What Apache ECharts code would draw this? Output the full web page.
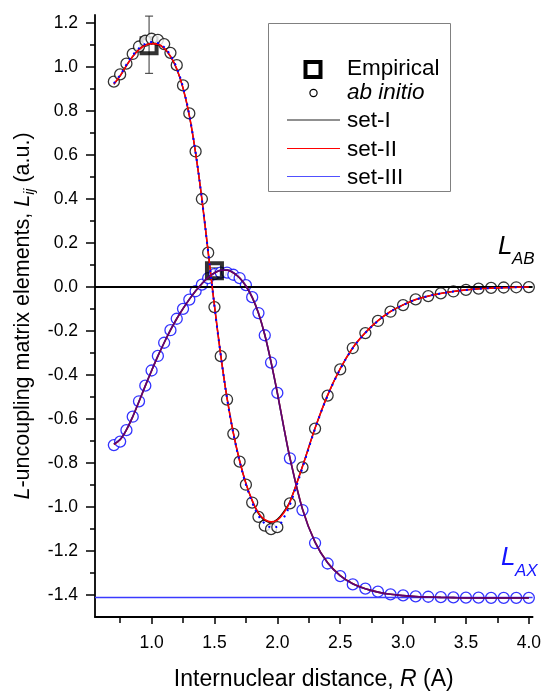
<!DOCTYPE html>
<html><head><meta charset="utf-8">
<script src="https://cdn.jsdelivr.net/npm/echarts@6/dist/echarts.min.js"></script>
<style>html,body{margin:0;padding:0;background:#fff}#c{width:544px;height:696px}</style>
</head><body><div id="c"></div>
<script>
// ---------- data ----------
const R_POINTS = [0.70,0.75,0.80,0.85,0.90,0.95,1.00,1.05,1.10,1.15,1.20,1.25,1.30,1.35,1.40,1.45,1.50,1.55,1.60,1.65,1.70,1.75,1.80,1.85,1.90,1.95,2.00,
  2.1,2.2,2.3,2.4,2.5,2.6,2.7,2.8,2.9,3.0,3.1,3.2,3.3,3.4,3.5,3.6,3.7,3.8,3.9,4.0];
const ABINITIO_LAB = [0.932,0.965,1.014,1.058,1.092,1.118,1.127,1.122,1.103,1.063,1.007,0.915,0.788,0.615,0.399,0.155,-0.092,-0.315,-0.512,-0.668,-0.794,-0.899,-0.980,-1.045,-1.085,-1.101,-1.092,
  -0.984,-0.820,-0.644,-0.494,-0.375,-0.278,-0.210,-0.155,-0.113,-0.083,-0.057,-0.042,-0.030,-0.021,-0.014,-0.008,-0.005,-0.003,-0.002,-0.001];
const ABINITIO_LAX = [-0.719,-0.703,-0.651,-0.590,-0.520,-0.449,-0.380,-0.314,-0.254,-0.197,-0.145,-0.100,-0.058,-0.020,0.010,0.040,0.058,0.065,0.065,0.055,0.040,0.008,-0.047,-0.119,-0.220,-0.344,-0.482,
  -0.779,-1.014,-1.164,-1.257,-1.314,-1.352,-1.371,-1.385,-1.397,-1.402,-1.406,-1.408,-1.410,-1.411,-1.412,-1.412,-1.413,-1.413,-1.413,-1.413];

const R_CURVE = [0.70,0.75,0.80,0.85,0.90,0.95,1.00,1.05,1.10,1.15,1.20,1.25,1.30,1.35,1.40,1.45,1.50,1.55,1.60,1.65,1.70,1.75,1.80,1.85,1.90,1.95,2.00,2.05,
  2.1,2.2,2.3,2.4,2.5,2.6,2.7,2.8,2.9,3.0,3.1,3.2,3.3,3.4,3.5,3.6,3.7,3.8,3.9,4.0];
const SET1_LAB = [0.920,0.958,1.005,1.047,1.079,1.099,1.107,1.103,1.084,1.047,0.990,0.903,0.778,0.608,0.398,0.158,-0.086,-0.310,-0.505,-0.663,-0.790,-0.893,-0.972,-1.030,-1.062,-1.070,-1.056,-1.022,
  -0.975,-0.815,-0.642,-0.492,-0.372,-0.277,-0.208,-0.154,-0.112,-0.082,-0.058,-0.042,-0.030,-0.021,-0.014,-0.009,-0.006,-0.004,-0.002,-0.001];
const SET2_LAB = [0.921,0.959,1.005,1.046,1.078,1.098,1.105,1.102,1.084,1.048,0.991,0.904,0.779,0.609,0.399,0.158,-0.086,-0.310,-0.506,-0.664,-0.790,-0.892,-0.970,-1.027,-1.058,-1.068,-1.060,-1.028,
  -0.978,-0.816,-0.642,-0.492,-0.372,-0.277,-0.208,-0.154,-0.112,-0.082,-0.058,-0.042,-0.030,-0.021,-0.014,-0.009,-0.006,-0.004,-0.002,-0.001];
const SET3_LAB = [0.925,0.962,1.010,1.052,1.084,1.104,1.112,1.108,1.089,1.052,0.995,0.907,0.781,0.610,0.399,0.157,-0.088,-0.312,-0.508,-0.666,-0.794,-0.898,-0.980,-1.040,-1.075,-1.092,-1.090,-1.050,
  -0.990,-0.822,-0.645,-0.494,-0.374,-0.278,-0.209,-0.155,-0.113,-0.083,-0.058,-0.042,-0.030,-0.021,-0.014,-0.009,-0.006,-0.004,-0.002,-0.001];
const SET1_LAX = [-0.715,-0.694,-0.650,-0.590,-0.521,-0.450,-0.381,-0.315,-0.254,-0.197,-0.145,-0.099,-0.057,-0.019,0.014,0.043,0.063,0.075,0.076,0.064,0.040,0.004,-0.048,-0.120,-0.218,-0.342,-0.482,-0.634,
  -0.777,-1.010,-1.160,-1.254,-1.312,-1.349,-1.372,-1.387,-1.397,-1.403,-1.407,-1.409,-1.411,-1.412,-1.413,-1.413,-1.413,-1.413,-1.414,-1.414];
const SET2_LAX = [-0.716,-0.695,-0.650,-0.590,-0.521,-0.450,-0.381,-0.315,-0.254,-0.197,-0.145,-0.099,-0.057,-0.019,0.014,0.043,0.063,0.075,0.076,0.064,0.041,0.005,-0.047,-0.119,-0.217,-0.341,-0.481,-0.633,
  -0.776,-1.009,-1.160,-1.254,-1.312,-1.349,-1.372,-1.387,-1.397,-1.403,-1.407,-1.409,-1.411,-1.412,-1.413,-1.413,-1.413,-1.413,-1.414,-1.414];
const SET3_LAX = [-0.714,-0.693,-0.649,-0.589,-0.520,-0.449,-0.380,-0.314,-0.253,-0.196,-0.144,-0.098,-0.056,-0.018,0.015,0.044,0.064,0.076,0.077,0.065,0.041,0.005,-0.047,-0.119,-0.218,-0.343,-0.483,-0.635,
  -0.778,-1.011,-1.161,-1.255,-1.313,-1.350,-1.372,-1.387,-1.397,-1.403,-1.407,-1.409,-1.411,-1.412,-1.413,-1.413,-1.413,-1.413,-1.414,-1.414];

const EMP_R = [0.98, 1.50];
const EMP_L = [1.095, 0.073];
const EMP_LOW = [0.97, 0.06];
const EMP_HIGH = [1.23, 0.086];

const LAB_ASYMPTOTE = 0;
const LAX_ASYMPTOTE = -1.414;

const X_MAJOR = [1.0,1.5,2.0,2.5,3.0,3.5,4.0];
const X_MINOR = [0.75,1.25,1.75,2.25,2.75,3.25,3.75];
const Y_MAJOR = [-1.4,-1.2,-1.0,-0.8,-0.6,-0.4,-0.2,0.0,0.2,0.4,0.6,0.8,1.0,1.2];
const Y_MINOR = [-1.3,-1.1,-0.9,-0.7,-0.5,-0.3,-0.1,0.1,0.3,0.5,0.7,0.9,1.1];

// ---------- chart ----------
const FONT = '"Liberation Sans", Arial, Helvetica, sans-serif';
const zip = (xs, ys) => xs.map((x, i) => [x, ys[i]]);
const chart = echarts.init(document.getElementById('c'), null, {renderer: 'canvas'});

const X_MIN = 0.55, X_MAX = 4.03, Y_MIN = -1.5, Y_MAX = 1.235;

function lineSeries(name, data, color, width, extra) {
  return Object.assign({
    name, type: 'line', data, smooth: 0.35, showSymbol: false, symbol: 'none',
    lineStyle: {color, width}, itemStyle: {color}, z: 5, silent: true, animation: false
  }, extra || {});
}

const option = {
  animation: false,
  backgroundColor: '#fff',
  grid: {left: 95, right: 6, top: 15, bottom: 73, containLabel: false},
  xAxis: [{
    type: 'value', min: X_MIN, max: X_MAX, position: 'bottom',
    axisLine: {show: true, onZero: false, lineStyle: {color: '#000', width: 1.8}},
    axisTick: {show: true, inside: false, length: 7, customValues: X_MAJOR, lineStyle: {color: '#000', width: 1.5}},
    axisLabel: {show: true, customValues: X_MAJOR, margin: 17, color: '#000', fontSize: 17.5, fontFamily: FONT,
      formatter: v => v.toFixed(1)},
    splitLine: {show: false},
    name: 'Internuclear distance, {i|R} (A)', nameLocation: 'middle', nameGap: 51,
    nameTextStyle: {color: '#000', fontSize: 23, fontFamily: FONT,
      rich: {i: {fontStyle: 'italic', fontSize: 23, fontFamily: FONT, color: '#000'}}}
  }, {
    type: 'value', min: X_MIN, max: X_MAX, position: 'bottom',
    axisLine: {show: false, onZero: false},
    axisTick: {show: true, inside: false, length: 6, customValues: X_MINOR, lineStyle: {color: '#000', width: 1.5}},
    axisLabel: {show: false}, splitLine: {show: false}
  }],
  yAxis: [{
    type: 'value', min: Y_MIN, max: Y_MAX, position: 'left',
    axisLine: {show: true, onZero: false, lineStyle: {color: '#000', width: 1.8}},
    axisTick: {show: true, inside: false, length: 9, customValues: Y_MAJOR, lineStyle: {color: '#000', width: 1.5}},
    axisLabel: {show: true, customValues: Y_MAJOR, margin: 17, color: '#000', fontSize: 17.5, fontFamily: FONT,
      formatter: v => v.toFixed(1)},
    splitLine: {show: false},
    name: '{i|L}-uncoupling matrix elements, {i|L}{s|ij} (a.u.)', nameLocation: 'middle', nameGap: 58,
    nameTextStyle: {color: '#000', fontSize: 21.5, fontFamily: FONT, lineHeight: 28,
      rich: {
        i: {fontStyle: 'italic', fontSize: 21.5, fontFamily: FONT, color: '#000', lineHeight: 28},
        s: {fontStyle: 'italic', fontSize: 14, fontFamily: FONT, color: '#000', lineHeight: 14, verticalAlign: 'bottom'}
      }}
  }, {
    type: 'value', min: Y_MIN, max: Y_MAX, position: 'left',
    axisLine: {show: false, onZero: false},
    axisTick: {show: true, inside: false, length: 5, customValues: Y_MINOR, lineStyle: {color: '#000', width: 1.5}},
    axisLabel: {show: false}, splitLine: {show: false}
  }],
  series: [
    // asymptote lines
    {
      name: 'asymptotes', type: 'line', data: [], silent: true, z: 4,
      markLine: {
        silent: true, symbol: 'none', label: {show: false}, animation: false,
        data: [
          {yAxis: LAB_ASYMPTOTE, lineStyle: {color: '#000', width: 1.8, type: 'solid'}},
          {yAxis: LAX_ASYMPTOTE, lineStyle: {color: '#3a3aff', width: 1.3, type: 'solid'}}
        ]
      }
    },
    // empirical error bars
    {
      name: 'Empirical error', type: 'custom', z: 1, silent: true,
      data: EMP_R.map((r, i) => [r, EMP_LOW[i], EMP_HIGH[i]]),
      renderItem: function (params, api) {
        const x = api.value(0);
        const p1 = api.coord([x, api.value(1)]);
        const p2 = api.coord([x, api.value(2)]);
        const cap = 4;
        const st = {stroke: '#333', lineWidth: 1};
        return {type: 'group', children: [
          {type: 'line', shape: {x1: p1[0], y1: p1[1], x2: p2[0], y2: p2[1]}, style: st},
          {type: 'line', shape: {x1: p1[0] - cap, y1: p1[1], x2: p1[0] + cap, y2: p1[1]}, style: st},
          {type: 'line', shape: {x1: p2[0] - cap, y1: p2[1], x2: p2[0] + cap, y2: p2[1]}, style: st}
        ]};
      }
    },
    // ab initio points, L_AX (below squares)
    {
      name: 'ab initio LAX', type: 'scatter', data: zip(R_POINTS, ABINITIO_LAX), symbol: 'circle', symbolSize: 11, z: 2,
      itemStyle: {color: '#fff', borderColor: '#0000ff', borderWidth: 1.3}, silent: true
    },
    // empirical squares
    {
      name: 'Empirical', type: 'scatter', data: zip(EMP_R, EMP_L), symbol: 'rect', symbolSize: 15, z: 3,
      itemStyle: {color: 'rgba(0,0,0,0)', borderColor: '#000', borderWidth: 4}, silent: true
    },
    // ab initio points, L_AB
    {
      name: 'ab initio LAB', type: 'scatter', data: zip(R_POINTS, ABINITIO_LAB), symbol: 'circle', symbolSize: 11, z: 4,
      itemStyle: {color: '#fff', borderColor: '#000', borderWidth: 1.3}, silent: true
    },
    // fitted curves L_AB
    lineSeries('set-I', zip(R_CURVE, SET1_LAB), '#000', 1.3, {z: 5}),
    lineSeries('set-II', zip(R_CURVE, SET2_LAB), '#ff0000', 1.6, {z: 6}),
    lineSeries('set-III', zip(R_CURVE, SET3_LAB), '#0000ff', 2, {z: 7, lineStyle: {color: '#0000ff', width: 2, type: [2, 5]}}),
    // fitted curves L_AX
    lineSeries('set-I', zip(R_CURVE, SET1_LAX), '#000', 1.6, {z: 5}),
    lineSeries('set-II', zip(R_CURVE, SET2_LAX), '#ff0000', 1.6, {z: 6, lineStyle: {color: '#ff0000', width: 1.6, opacity: 0.7}}),
    lineSeries('set-III', zip(R_CURVE, SET3_LAX), '#0000ff', 1.6, {z: 7, lineStyle: {color: '#0000ff', width: 1.6, opacity: 0.45}})
  ],
  graphic: [
    // legend box
    {type: 'rect', z: 100, shape: {x: 268.5, y: 23.5, width: 182, height: 168},
      style: {fill: '#fff', stroke: '#808080', lineWidth: 1}},
    {type: 'rect', z: 101, shape: {x: 305.5, y: 62, width: 15, height: 15},
      style: {fill: 'none', stroke: '#000', lineWidth: 4}},
    {type: 'text', z: 101, style: {text: 'Empirical', x: 347, y: 69, fill: '#000', font: '22.5px ' + FONT, verticalAlign: 'middle'}},
    {type: 'circle', z: 101, shape: {cx: 313.5, cy: 93, r: 3.6}, style: {fill: '#fff', stroke: '#000', lineWidth: 1.2}},
    {type: 'text', z: 101, style: {text: 'ab initio', x: 347, y: 93, fill: '#000', font: 'italic 22.5px ' + FONT, verticalAlign: 'middle'}},
    {type: 'line', z: 101, shape: {x1: 287, y1: 120, x2: 340, y2: 120}, style: {stroke: '#222', lineWidth: 1.2}},
    {type: 'text', z: 101, style: {text: 'set-I', x: 347, y: 121, fill: '#000', font: '22.5px ' + FONT, verticalAlign: 'middle'}},
    {type: 'line', z: 101, shape: {x1: 287, y1: 148.5, x2: 340, y2: 148.5}, style: {stroke: '#ff0000', lineWidth: 1.2}},
    {type: 'text', z: 101, style: {text: 'set-II', x: 347, y: 149.5, fill: '#000', font: '22.5px ' + FONT, verticalAlign: 'middle'}},
    {type: 'line', z: 101, shape: {x1: 287, y1: 176.5, x2: 340, y2: 176.5}, style: {stroke: '#5050ff', lineWidth: 1.2}},
    {type: 'text', z: 101, style: {text: 'set-III', x: 347, y: 177.5, fill: '#000', font: '22.5px ' + FONT, verticalAlign: 'middle'}},
    // curve labels
    {type: 'text', z: 101, style: {text: 'L', x: 498, y: 247, fill: '#000', font: 'italic 26px ' + FONT, verticalAlign: 'middle'}},
    {type: 'text', z: 101, style: {text: 'AB', x: 512, y: 259, fill: '#000', font: 'italic 17px ' + FONT, verticalAlign: 'middle'}},
    {type: 'text', z: 101, style: {text: 'L', x: 501, y: 558, fill: '#1515ff', font: 'italic 26px ' + FONT, verticalAlign: 'middle'}},
    {type: 'text', z: 101, style: {text: 'AX', x: 515, y: 571, fill: '#1515ff', font: 'italic 17px ' + FONT, verticalAlign: 'middle'}}
  ]
};
chart.setOption(option);
</script>
</body></html>
